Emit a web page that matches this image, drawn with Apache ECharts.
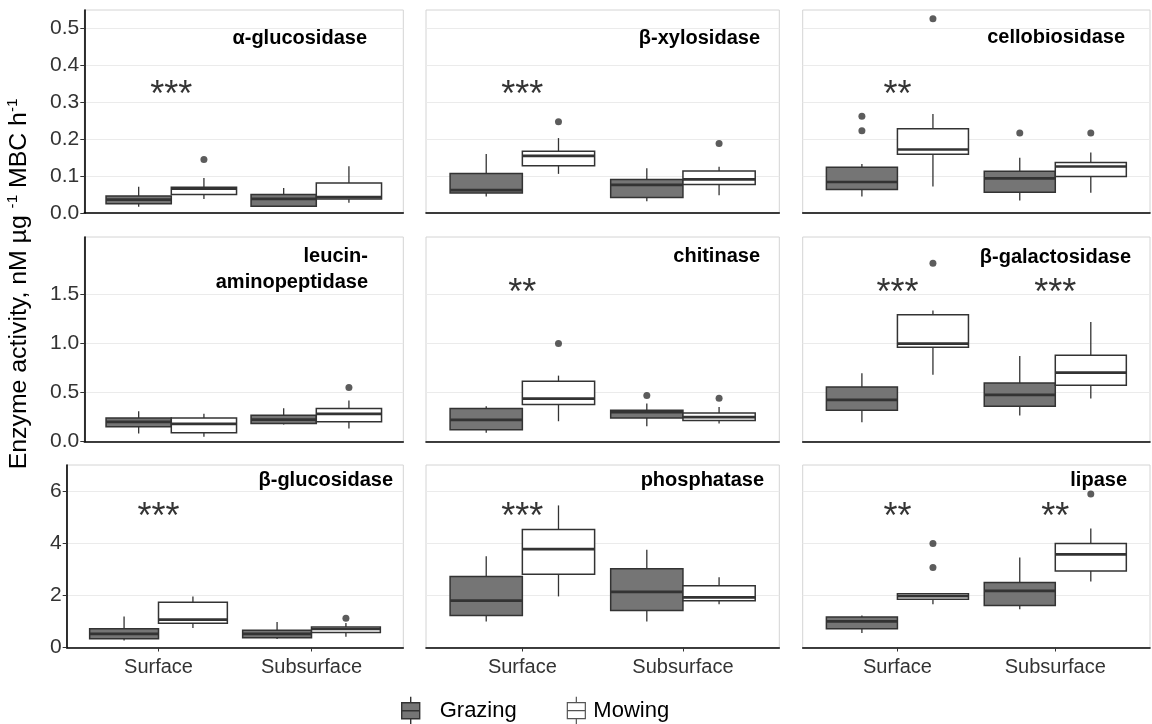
<!DOCTYPE html>
<html>
<head>
<meta charset="utf-8">
<script src="https://cdn.jsdelivr.net/npm/echarts@6/dist/echarts.min.js"></script>
<style>html,body{margin:0;padding:0;background:#fff}#c{width:1152px;height:724px}</style>
</head>
<body>
<div id="c"></div>
<script>
// ---------------- DATA ----------------
const enzymes = ['α-glucosidase','β-xylosidase','cellobiosidase','leucin-\naminopeptidase','chitinase','β-galactosidase','β-glucosidase','phosphatase','lipase'];
const depths = ['Surface','Subsurface'];
const treatments = ['Grazing','Mowing'];
// [lower whisker, Q1, median, Q3, upper whisker] for [Surface, Subsurface]
const grazingBoxes = [
  [[0.017,0.025,0.036,0.046,0.071],[0.016,0.018,0.038,0.050,0.068]],
  [[0.045,0.054,0.062,0.107,0.160],[0.032,0.042,0.076,0.091,0.121]],
  [[0.045,0.064,0.084,0.124,0.133],[0.034,0.056,0.094,0.113,0.150]],
  [[0.081,0.149,0.200,0.240,0.308],[0.173,0.183,0.223,0.267,0.338]],
  [[0.088,0.119,0.220,0.335,0.359],[0.156,0.240,0.298,0.318,0.386]],
  [[0.196,0.318,0.423,0.555,0.694],[0.264,0.359,0.474,0.596,0.870]],
  [[0.27,0.34,0.52,0.72,1.19],[0.33,0.37,0.52,0.66,0.98]],
  [[1.00,1.23,1.80,2.72,3.50],[1.00,1.42,2.13,3.02,3.75]],
  [[0.56,0.72,1.00,1.17,1.23],[1.47,1.61,2.17,2.49,3.45]]
];
const mowingBoxes = [
  [[0.038,0.050,0.066,0.070,0.095],[0.028,0.038,0.043,0.081,0.127]],
  [[0.106,0.128,0.155,0.167,0.203],[0.048,0.077,0.091,0.114,0.125]],
  [[0.072,0.159,0.172,0.228,0.268],[0.055,0.099,0.126,0.137,0.164]],
  [[0.048,0.088,0.180,0.240,0.281],[0.132,0.200,0.281,0.335,0.416]],
  [[0.206,0.376,0.437,0.612,0.670],[0.183,0.213,0.247,0.291,0.352]],
  [[0.680,0.958,0.995,1.289,1.333],[0.437,0.572,0.700,0.876,1.215]],
  [[0.75,0.93,1.07,1.74,1.96],[0.41,0.58,0.71,0.79,0.94]],
  [[1.96,2.81,3.77,4.53,5.45],[1.66,1.79,1.92,2.37,2.69]],
  [[1.66,1.85,1.97,2.06,2.06],[2.53,2.93,3.57,3.99,4.56]]
];
const grazingOutliers = [
  [[],[]],[[],[]],[[0.262,0.223],[0.217]],
  [[],[]],[[],[0.467]],[[],[]],
  [[],[]],[[],[]],[[],[]]
];
const mowingOutliers = [
  [[0.145],[]],[[0.247],[0.188]],[[0.526],[0.217]],
  [[],[0.548]],[[0.998],[0.44]],[[1.814],[]],
  [[],[1.12]],[[],[]],[[3.99,3.07],[5.89]]
];
const significance = [
  ['***',''],['***',''],['**',''],
  ['',''],['**',''],['***','***'],
  ['***',''],['***',''],['**','**']
];
const significanceY = [0.336, 1.574, 5.22];
const rowMax = [0.55, 2.08, 7.0];
const rowBreaks = [[0,0.1,0.2,0.3,0.4,0.5],[0,0.5,1.0,1.5],[0,2,4,6]];
const rowDecimals = [1,1,0];

// ---------------- LAYOUT / STYLE ----------------
const FONT = '"Liberation Sans", Arial, sans-serif';
const rowTop = [10, 237, 465];
const rowHeight = [203, 204.5, 182.5];
const colLeft = [84.3, 426, 802.7];
const colRight = [403.3, 779.3, 1150];
const row3FirstLeft = 66.7;
const titlePos = [[367,38],[760,38],[1125,37],[368,269],[760,256],[1131,257],[393,480],[764,480],[1127,480]];
const fills = {Grazing:'#757575', Mowing:'#ffffff'};
const DODGE = 0.225, HALF = 0.225;

const grids = [], xAxes = [], yAxes = [], series = [], graphics = [];

function makeBoxRender(fill) {
  return function (params, api) {
    const x = api.value(0);
    const lo = api.coord([x, api.value(1)]);
    const q1 = api.coord([x, api.value(2)]);
    const md = api.coord([x, api.value(3)]);
    const q3 = api.coord([x, api.value(4)]);
    const hi = api.coord([x, api.value(5)]);
    const l = api.coord([x - HALF, api.value(3)])[0];
    const r = api.coord([x + HALF, api.value(3)])[0];
    const ls = {stroke:'#333333', lineWidth:1.3};
    return {type:'group', children:[
      {type:'line', shape:{x1:md[0], y1:hi[1], x2:md[0], y2:q3[1]}, style:ls},
      {type:'line', shape:{x1:md[0], y1:q1[1], x2:md[0], y2:lo[1]}, style:ls},
      {type:'rect', shape:{x:l, y:q3[1], width:r-l, height:q1[1]-q3[1]}, style:{fill:fill, stroke:'#333333', lineWidth:1.5}},
      {type:'line', shape:{x1:l, y1:md[1], x2:r, y2:md[1]}, style:{stroke:'#333333', lineWidth:2.7}}
    ]};
  };
}

enzymes.forEach(function (name, i) {
  const row = Math.floor(i / 3), col = i % 3;
  const left = (row === 2 && col === 0) ? row3FirstLeft : colLeft[col];
  grids.push({left:left, top:rowTop[row], width:colRight[col]-left, height:rowHeight[row],
    show:true, borderColor:'#d4d4d4', borderWidth:1, backgroundColor:'#ffffff', containLabel:false});
  xAxes.push({type:'value', gridIndex:i, min:0.4, max:2.6, position:'bottom',
    axisLine:{show:true, onZero:false, lineStyle:{color:'#000', width:1.6}},
    axisTick:{show:row===2, length:4, lineStyle:{color:'#333'}, customValues:[1,2]},
    axisLabel:{show:row===2, customValues:[1,2], formatter:function(v){return depths[Math.round(v)-1];},
      fontSize:20, color:'#333333', fontFamily:FONT, margin:10},
    splitLine:{show:false}});
  const dec = rowDecimals[row];
  yAxes.push({type:'value', gridIndex:i, min:0, max:rowMax[row],
    axisLine:{show:col===0, lineStyle:{color:'#000', width:1.6}},
    axisTick:{show:col===0, length:4, lineStyle:{color:'#333'}, customValues:rowBreaks[row]},
    axisLabel:{show:col===0, customValues:rowBreaks[row], formatter:function(v){return v.toFixed(dec);},
      fontSize:21, color:'#333333', fontFamily:FONT, margin:5, padding:[6,0,0,0]},
    splitLine:{show:true, lineStyle:{color:'#ebebeb', width:1}}});

  treatments.forEach(function (t, ti) {
    const boxes = ti === 0 ? grazingBoxes[i] : mowingBoxes[i];
    const outs = ti === 0 ? grazingOutliers[i] : mowingOutliers[i];
    const off = ti === 0 ? -DODGE : DODGE;
    series.push({type:'custom', name:t, xAxisIndex:i, yAxisIndex:i, silent:true,
      itemStyle:{color:fills[t], borderColor:'#333'},
      renderItem:makeBoxRender(fills[t]),
      encode:{x:0, y:[1,2,3,4,5]},
      data:boxes.map(function(b, d){return [d+1+off].concat(b);})});
    const pts = [];
    outs.forEach(function(arr, d){arr.forEach(function(v){pts.push([d+1+off, v]);});});
    series.push({type:'scatter', name:t, xAxisIndex:i, yAxisIndex:i, silent:true, symbol:'circle', symbolSize:7,
      itemStyle:{color:'#333333'}, data:pts});
  });
  const stars = [];
  significance[i].forEach(function(s, d){ if (s) stars.push([d+1, significanceY[row], s]); });
  series.push({type:'scatter', xAxisIndex:i, yAxisIndex:i, silent:true, symbolSize:0,
    data:stars, encode:{x:0, y:1},
    label:{show:true, position:'inside', offset:[0,7], formatter:function(p){return p.value[2];},
      fontSize:36, color:'#000', fontFamily:FONT}});

  graphics.push({type:'text', x:titlePos[i][0], y:titlePos[i][1],
    style:{text:name, align:'right', textAlign:'right', verticalAlign:'middle', textVerticalAlign:'middle',
      fontSize:20, fontWeight:'bold', fontFamily:FONT, fill:'#000', lineHeight:26}});
});

graphics.push({type:'text', x:19.5, y:284, rotation:Math.PI/2, scaleX:1.08,
  style:{text:'Enzyme activity, nM µg {sup|-1} MBC h{sup|-1}', align:'center', textAlign:'center',
    verticalAlign:'middle', textVerticalAlign:'middle', fontSize:23, fontFamily:FONT, fill:'#000',
    rich:{sup:{fontSize:14, fontFamily:FONT, fill:'#000', color:'#000', padding:[0,0,12,0]}}}});

const iconPath = 'path://M10,0L10,6M1,6L19,6L19,22L1,22ZM1,14L19,14M10,22L10,28';
const option = {
  animation:false,
  backgroundColor:'#ffffff',
  grid:grids, xAxis:xAxes, yAxis:yAxes, series:series, graphic:graphics,
  legend:{left:396, top:691, itemWidth:24, itemHeight:28, itemGap:50, selectedMode:false,
    textStyle:{fontSize:22, fontFamily:FONT, color:'#000'},
    data:[
      {name:'Grazing', icon:iconPath,
        itemStyle:{color:'#757575', borderColor:'#333333', borderWidth:1.4},
        textStyle:{fontSize:22, fontFamily:FONT, color:'#000', padding:[0,0,7,12]}},
      {name:'Mowing', icon:iconPath,
        itemStyle:{color:'#ffffff', borderColor:'#555555', borderWidth:1.2},
        textStyle:{fontSize:22, fontFamily:FONT, color:'#000', padding:[0,0,7,0]}}
    ]}
};
const chart = echarts.init(document.getElementById('c'), null, {renderer:'canvas'});
chart.setOption(option);
</script>
</body>
</html>
